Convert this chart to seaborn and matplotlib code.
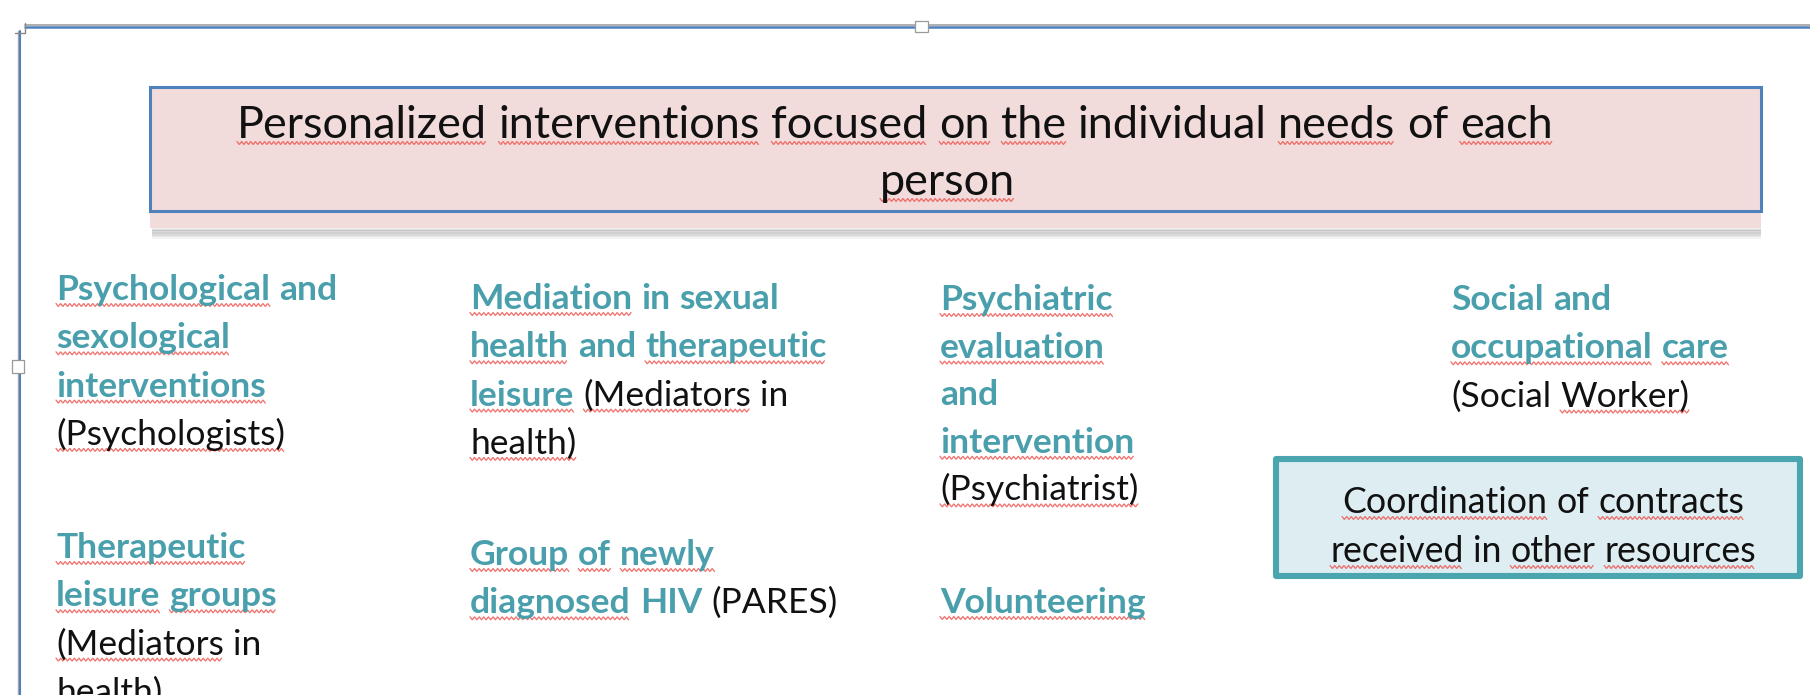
import matplotlib
matplotlib.use("Agg")
import matplotlib.pyplot as plt
import seaborn as sns
import numpy as np
from matplotlib.patches import Rectangle

sns.set_theme(style="white")
plt.rcParams['font.family'] = ['Lato', 'DejaVu Sans']

# ---------------- content ----------------
# markup: '*' = bold teal word, '~' = word with red spell-check squiggle
title_lines = ["~Personalized ~interventions ~focused ~on ~the individual ~needs of ~each",
               "~person"]

col1_block1 = ["*~Psychological *and", "*~sexological", "*~interventions", "~(Psychologists)"]
col1_block2 = ["*~Therapeutic", "*~leisure *~groups", "~(Mediators in", "~health)"]
col2_block1 = ["*~Mediation *in *sexual", "*~health *and *~therapeutic",
               "*~leisure ~(Mediators in", "~health)"]
col2_block2 = ["*~Group *~of *~newly", "*~diagnosed *HIV (PARES)"]
col3_block1 = ["*~Psychiatric", "*~evaluation", "*and", "*~intervention", "~(Psychiatrist)"]
col3_block2 = ["*~Volunteering"]
col4_block1 = ["*Social *and", "*~occupational *~care", "(Social ~Worker)"]
box_lines = ["~Coordination of ~contracts", "~received in ~other ~resources"]

TEAL = '#4a9fac'
BLACK = '#111111'
SQUIG = '#ee5b55'

W, H = 1810, 695
fig = plt.figure(figsize=(W / 100, H / 100), dpi=100)
ax = fig.add_axes([0, 0, 1, 1])
ax.set_xlim(0, W)
ax.set_ylim(H, 0)
ax.axis('off')
fig.patch.set_facecolor('white')

renderer = fig.canvas.get_renderer()


def tw(s, size, weight='normal'):
    t = ax.text(0, 0, s, fontsize=size, fontweight=weight)
    w = t.get_window_extent(renderer).width
    t.remove()
    return w


def fit(s, target, weight='normal'):
    return 20 * target / tw(s, 20, weight)


def squiggle(x0, x1, y, amp=1.5, period=4.6):
    xs = np.arange(x0, x1 + 0.01, period / 2)
    ys = y + np.where(np.arange(len(xs)) % 2 == 0, -amp, amp)
    ax.plot(xs, ys, color=SQUIG, lw=0.95, alpha=0.85, solid_joinstyle='miter', zorder=3)


def draw_line(x, y, markup, size):
    sp = tw("a a", size) - tw("aa", size)
    for tok in markup.split(" "):
        bold = tok.startswith("*")
        tok = tok.lstrip("*")
        sq = tok.startswith("~")
        tok = tok.lstrip("~")
        weight = 'bold' if bold else 'normal'
        t = ax.text(x, y, tok, fontsize=size, fontweight=weight,
                    color=TEAL if bold else BLACK, va='baseline', ha='left', zorder=4)
        w = t.get_window_extent(renderer).width
        if sq:
            squiggle(x, x + w, y + 5)
        x += w + sp


def draw_block(x, y0, lines, size, step=48.3):
    for i, ln in enumerate(lines):
        draw_line(x, y0 + i * step, ln, size)


# ---------------- page frame ----------------
ax.plot([25, W], [25, 25], color='#a8a8a8', lw=1.3, zorder=1)
ax.plot([25, W], [27.2, 27.2], color='#4f81bd', lw=1.8, zorder=1)
ax.plot([18, 18], [31, H], color='#a8a8a8', lw=1.0, zorder=1)
ax.plot([20, 20], [31, H], color='#4f81bd', lw=1.5, zorder=1)
ax.plot([15, 25, 25], [33, 33, 23], color='#888888', lw=1.0, zorder=1)
ax.add_patch(Rectangle((915, 21), 13, 11, facecolor='white', edgecolor='#999999', lw=0.9, zorder=2))
ax.add_patch(Rectangle((12, 360), 12, 13, facecolor='white', edgecolor='#999999', lw=0.9, zorder=2))

# ---------------- title box ----------------
for k, a in enumerate([0.10, 0.16, 0.22, 0.28, 0.22, 0.14, 0.07]):
    ax.add_patch(Rectangle((152, 227 + k * 1.7), 1609, 1.8, facecolor='#555555',
                           edgecolor='none', alpha=a, zorder=1))
ax.add_patch(Rectangle((150, 86), 1611, 142, facecolor='#f2dbdb', edgecolor='none', zorder=2))
ax.add_patch(Rectangle((150, 87), 1611, 124, facecolor='none', edgecolor='#4f81bd',
                       lw=2.2, zorder=3))

title_size = fit(title_lines[0].replace("~", ""), 1322)
draw_line(237, 138, title_lines[0], title_size)
draw_line(880, 195, title_lines[1], title_size)

# ---------------- columns ----------------
body_size = fit("Psychological and", 280, 'bold')
draw_block(56, 300, col1_block1, body_size)
draw_block(56, 558, col1_block2, body_size)
draw_block(470, 309, col2_block1, body_size)
draw_block(470, 565, col2_block2, body_size)
draw_block(940, 310, col3_block1, body_size, step=47.6)
draw_block(940, 613, col3_block2, body_size)
draw_block(1451, 310, col4_block1, body_size)

# ---------------- coordination box ----------------
ax.add_patch(Rectangle((1276, 458.5), 524, 117, facecolor='#ddedf2', edgecolor='#4aa5ae',
                       lw=4.4, joinstyle='round', zorder=2))
box_size = fit(box_lines[1].replace("~", ""), 427)
for ln, yb in zip(box_lines, [513, 562]):
    plain = ln.replace("~", "")
    wline = tw(plain, box_size)
    draw_line(1543 - wline / 2, yb, ln, box_size)

fig.savefig("out.png", dpi=100, facecolor='white')
